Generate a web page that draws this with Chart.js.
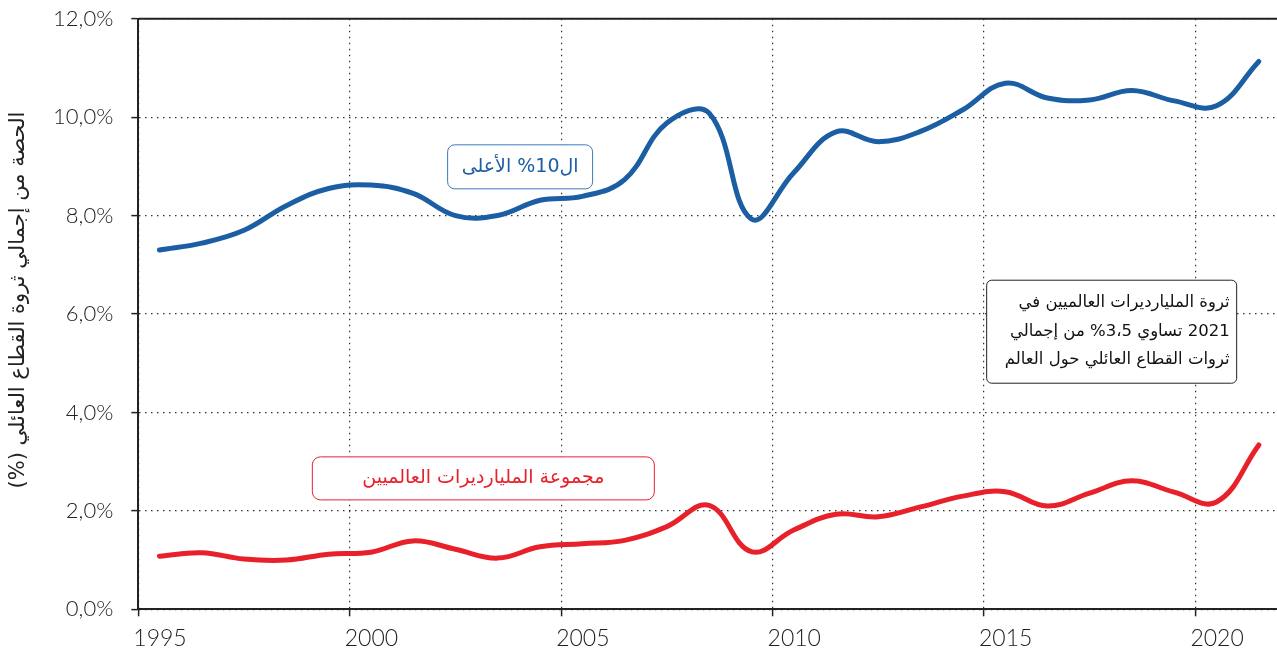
<!DOCTYPE html>
<html>
<head>
<meta charset="utf-8">
<script src="https://cdn.jsdelivr.net/npm/chart.js@4.4.1/dist/chart.umd.min.js"></script>
<style>
  html, body { margin: 0; padding: 0; background: #fff; overflow: hidden; }
  #wrap { position: relative; width: 1277px; height: 653px; }
</style>
</head>
<body>
<div id="wrap"><canvas id="chart" width="1277" height="653"></canvas></div>
<script>
// values are mid-year estimates
const years = [1995, 1996, 1997, 1998, 1999, 2000, 2001, 2002, 2003, 2004, 2005, 2006, 2007, 2008,
  2009, 2010, 2011, 2012, 2013, 2014, 2015, 2016, 2017, 2018, 2019, 2020, 2021];
const top10 = [7.30, 7.44, 7.70, 8.20, 8.55, 8.62, 8.45, 8.00, 8.00, 8.31, 8.39, 8.73, 9.88, 10.08,
  7.93, 8.87, 9.70, 9.50, 9.71, 10.15, 10.69, 10.39, 10.35, 10.54, 10.33, 10.23, 11.13];
const billionaires = [1.08, 1.15, 1.02, 1.00, 1.12, 1.16, 1.39, 1.22, 1.04, 1.27, 1.33, 1.40, 1.68, 2.11,
  1.17, 1.61, 1.93, 1.88, 2.08, 2.30, 2.39, 2.10, 2.36, 2.61, 2.38, 2.18, 3.34];
const xTickYears = [1995, 2000, 2005, 2010, 2015, 2020];
const yTickValues = [0, 2, 4, 6, 8, 10, 12];

const yTitle = 'الحصة من إجمالي ثروة القطاع العائلي (%)';
const labelTop10 = 'ال10% الأعلى';
const labelBillionaires = 'مجموعة المليارديرات العالميين';
const noteLines = [
  'ثروة المليارديرات العالميين في',
  '2021 تساوي 3،5% من إجمالي',
  'ثروات القطاع العائلي حول العالم'
];

const BLUE = '#1c5ea4';
const RED = '#e8202a';
const arabicFont = "'DejaVu Sans', 'Noto Sans', sans-serif";
const tickFont = "Lato, 'Open Sans', sans-serif";

// boxes anchored in data coordinates (year, value)
const notes = [
  { year: 2004.03, value: 8.99, w: 145, h: 44, r: 7, border: '#3a78bd', color: BLUE, size: 19, lines: [labelTop10] },
  { year: 2003.16, value: 2.66, w: 342, h: 43, r: 8, border: RED, color: RED, size: 19, lines: [labelBillionaires] },
  { year: 2018.02, value: 5.64, w: 250, h: 103, r: 5, border: '#222', color: '#111', size: 16.5, lines: noteLines, right: true }
];

const notesPlugin = {
  id: 'notes',
  afterDraw(chart) {
    const { ctx, chartArea, scales } = chart;
    ctx.save();
    // solid top frame line
    ctx.strokeStyle = '#222';
    ctx.lineWidth = 2;
    ctx.beginPath();
    ctx.moveTo(chartArea.left, chartArea.top);
    ctx.lineTo(chartArea.right, chartArea.top);
    ctx.stroke();

    // rotated y axis title
    ctx.save();
    ctx.translate(19, (chartArea.top + chartArea.bottom) / 2 - 14);
    ctx.rotate(-Math.PI / 2);
    ctx.direction = 'rtl';
    ctx.textAlign = 'center';
    ctx.textBaseline = 'middle';
    ctx.fillStyle = '#222';
    ctx.font = '21px ' + arabicFont;
    ctx.fillText(yTitle, 0, 0);
    ctx.restore();

    notes.forEach(n => {
      const cx = scales.x.getPixelForValue(n.year);
      const cy = scales.y.getPixelForValue(n.value);
      const x0 = cx - n.w / 2, y0 = cy - n.h / 2;
      ctx.beginPath();
      ctx.roundRect(x0, y0, n.w, n.h, n.r);
      ctx.fillStyle = '#fff';
      ctx.fill();
      ctx.lineWidth = 1;
      ctx.strokeStyle = n.border;
      ctx.stroke();

      ctx.fillStyle = n.color;
      ctx.font = n.size + 'px ' + arabicFont;
      ctx.direction = 'rtl';
      ctx.textBaseline = 'middle';
      const lh = 28.5;
      const firstY = cy - (n.lines.length - 1) * lh / 2;
      n.lines.forEach((line, i) => {
        if (n.right) {
          ctx.textAlign = 'right';
          ctx.fillText(line, x0 + n.w - 7, firstY + i * lh);
        } else {
          ctx.textAlign = 'center';
          ctx.fillText(line, cx, firstY + i * lh);
        }
      });
    });
    ctx.restore();
  }
};

new Chart(document.getElementById('chart'), {
  type: 'line',
  data: {
    datasets: [
      {
        label: labelTop10,
        data: years.map((yr, i) => ({ x: yr + 0.5, y: top10[i] })),
        borderColor: BLUE,
        borderWidth: 5,
        borderCapStyle: 'round',
        pointRadius: 0,
        tension: 0.4
      },
      {
        label: labelBillionaires,
        data: years.map((yr, i) => ({ x: yr + 0.5, y: billionaires[i] })),
        borderColor: RED,
        borderWidth: 5,
        borderCapStyle: 'round',
        pointRadius: 0,
        tension: 0.4
      }
    ]
  },
  options: {
    responsive: false,
    animation: false,
    devicePixelRatio: 1,
    layout: { padding: { top: 18.7, right: 0, left: 0, bottom: 0 } },
    plugins: {
      legend: { display: false },
      tooltip: { enabled: false }
    },
    scales: {
      x: {
        type: 'linear',
        min: 1995,
        max: 2021.93,
        afterBuildTicks: s => { s.ticks = xTickYears.map(v => ({ value: v })); },
        afterFit: s => { s.height = 43.7; s.paddingLeft = 0; s.paddingRight = 0; },
        ticks: {
          callback: v => String(v),
          align: 'start',
          labelOffset: -5,
          padding: 8,
          maxRotation: 0,
          autoSkip: false,
          color: '#222',
          font: { family: tickFont, size: 23, weight: 300 }
        },
        grid: { color: '#333', lineWidth: 1.2, tickLength: 7, tickColor: '#222', tickWidth: 1.5, tickBorderDash: [] },
        border: { color: '#222', width: 2, dash: [1.5, 4.5] }
      },
      y: {
        min: 0,
        max: 12,
        afterBuildTicks: s => { s.ticks = yTickValues.map(v => ({ value: v })); },
        afterFit: s => { s.width = 138.3; s.paddingTop = 0; s.paddingBottom = 0; },
        ticks: {
          callback: v => v.toFixed(1).replace('.', ',') + '%',
          padding: 18,
          color: '#222',
          font: { family: tickFont, size: 22, weight: 300 }
        },
        grid: { color: '#333', lineWidth: 1.2, tickLength: 7, tickColor: '#222', tickWidth: 1.5, tickBorderDash: [] },
        border: { color: '#222', width: 2, dash: [1.5, 4.5] }
      }
    }
  },
  plugins: [notesPlugin]
});
</script>
</body>
</html>
